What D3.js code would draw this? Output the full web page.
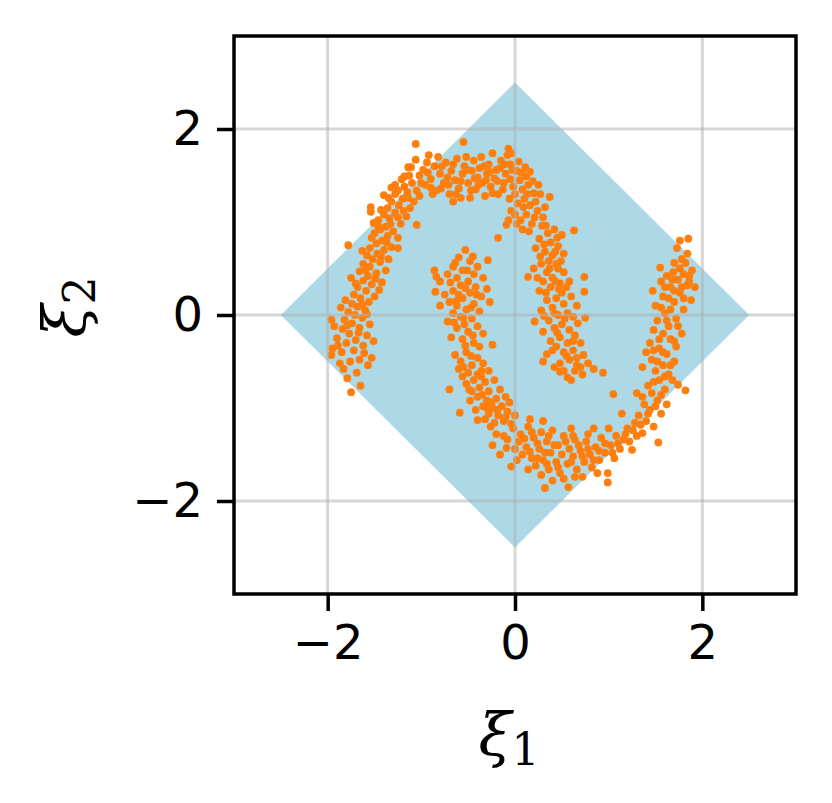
<!DOCTYPE html>
<html lang="en">
<head>
    <meta charset="UTF-8">
    <title>moons</title>
    <script src="https://d3js.org/d3.v7.min.js"></script>
    <style>
        * { margin: 0; padding: 0; box-sizing: border-box; }
        body { background: white; font-family: "DejaVu Sans", sans-serif; }
    </style>
</head>
<body>
    <div id="chart"></div>
    <script>
        // tick values of both axes
        const xTicks = [-2, 0, 2];
        const yTicks = [-2, 0, 2];

        // region |x| + |y| <= 2.5 (corners)
        const diamond = [[2.5, 0], [0, 2.5], [-2.5, 0], [0, -2.5]];

        // upper (left) moon
        const upperMoon = [
            [-1.75,-0.83],[-1.65,-0.76],[-1.79,-0.68],[-1.87,-0.52],[-1.76,-0.50],[-1.66,-0.48],[-1.53,-0.46],[-1.57,-0.54],
            [-1.96,-0.43],[-1.95,-0.36],[-1.85,-0.40],[-1.72,-0.38],[-1.62,-0.33],[-1.80,-0.30],[-1.90,-0.25],[-1.70,-0.27],
            [-1.58,-0.22],[-1.77,-0.20],[-1.84,-0.15],[-1.66,-0.14],[-1.55,-0.10],[-1.74,-0.09],[-1.96,-0.05],[-1.82,-0.05],
            [-1.63,-0.03],[-1.71,0.00],[-1.78,0.03],[-1.60,0.05],[-1.68,0.09],[-1.86,0.08],[-1.74,0.12],
            [-1.56,0.14],[-1.65,0.18],[-1.50,0.20],[-1.72,0.22],[-1.59,0.26],[-1.45,0.27],[-1.68,0.30],[-1.53,0.33],
            [-1.62,0.37],[-1.42,0.35],[-1.75,0.40],[-1.57,0.42],[-1.48,0.45],[-1.66,0.47],[-1.38,0.48],[-1.55,0.52],
            [-1.62,0.55],[-1.44,0.57],[-1.52,0.60],[-1.35,0.60],[-1.58,0.64],[-1.47,0.66],[-1.40,0.70],[-1.55,0.72],
            [-1.32,0.73],[-1.48,0.77],[-1.78,0.75],[-1.25,0.83],[-1.25,0.72],[-1.42,0.80],[-1.36,0.85],[-1.50,0.88],
            [-1.51,0.99],[-1.54,1.11],[-1.54,1.16],[-1.44,0.92],[-1.38,0.95],[-1.30,0.90],[-1.46,1.02],[-1.34,1.04],
            [-1.22,0.98],[-1.40,1.08],[-1.28,1.10],[-1.16,1.06],[-1.05,0.97],[-1.36,1.15],[-1.24,1.18],[-1.12,1.15],
            [-1.40,1.29],[-1.32,1.22],[-1.20,1.25],[-1.08,1.22],[-1.28,1.30],[-1.15,1.32],[-1.02,1.28],[-1.32,1.37],
            [-1.28,1.40],[-1.18,1.38],[-1.10,1.42],[-1.21,1.46],
            [-1.18,1.49],[-1.14,1.59],[-1.11,1.59],[-1.06,1.67],[-1.06,1.84],[-0.92,1.72],[-0.55,1.86],[-1.02,1.50],
            [-0.96,1.40],[-0.98,1.56],[-0.90,1.46],[-0.86,1.60],[-0.84,1.34],[-0.80,1.52],[-0.76,1.42],[-0.74,1.64],
            [-0.70,1.30],[-0.68,1.55],[-0.64,1.45],[-0.62,1.68],[-0.60,1.36],[-0.56,1.52],[-0.54,1.60],[-0.50,1.42],
            [-0.48,1.26],[-0.46,1.55],[-0.44,1.66],[-0.42,1.35],[-0.40,1.48],[-0.38,1.58],[-0.35,1.42],[-0.32,1.28],
            [-0.30,1.52],[-0.28,1.62],[-0.26,1.38],[-0.22,1.47],[-0.20,1.56],[-0.18,1.30],[-0.15,1.66],[-0.12,1.42],
            [-0.10,1.52],[-0.08,1.72],[-0.66,1.22],[-0.88,1.30],[-0.58,1.26],[-0.72,1.48],[-0.94,1.64],[-0.82,1.70],
            [-0.52,1.70],[-0.36,1.70],[-0.24,1.74],
            [-0.07,1.79],[-0.04,1.74],[0.11,1.59],[0.16,1.54],[0.12,1.49],[0.25,1.40],[0.37,1.27],[0.16,1.18],
            [0.20,1.31],[-0.05,1.62],[0.02,1.55],[0.05,1.45],[-0.02,1.38],[0.08,1.35],[-0.06,1.25],[0.03,1.20],
            [0.10,1.25],[-0.09,0.97],[-0.07,1.02],[0.00,1.08],[0.06,1.02],[-0.04,1.12],[0.12,1.08],[0.18,0.98],
            [0.24,1.12],[0.08,0.92],[0.30,1.05],[-0.18,0.83],[0.14,1.40],[0.04,1.65],
            [0.29,0.96],[0.35,0.88],[0.42,0.92],[0.50,0.86],[0.63,0.91],[0.26,0.82],[0.38,0.78],[0.46,0.74],
            [0.22,0.72],[0.32,0.68],[0.40,0.64],[0.52,0.66],[0.36,0.58],[0.44,0.55],[0.28,0.55],[0.46,0.50],
            [0.20,0.50],[0.14,0.41],[0.34,0.46],[0.52,0.46],[0.40,0.40],[0.74,0.41],[0.30,0.36],[0.48,0.34],
            [0.58,0.36],[0.38,0.30],[0.74,0.25],[0.26,0.26],[0.50,0.24],[0.44,0.18],[0.60,0.20],[0.34,0.16],
            [0.52,0.12],[0.66,0.10],[0.40,0.08],[0.28,0.05],[0.56,0.02],[0.46,0.00],[0.62,-0.02],
            [0.75,-0.03],[0.21,-0.07],[0.36,-0.06],[0.50,-0.10],[0.42,-0.14],[0.58,-0.16],[0.30,-0.18],[0.64,-0.22],
            [0.48,-0.24],[0.38,-0.28],[0.56,-0.30],[0.70,-0.30],[0.44,-0.34],[0.62,-0.38],[0.52,-0.40],[0.34,-0.42],
            [0.66,-0.46],[0.58,-0.48],[0.30,-0.50],[0.48,-0.52],[0.78,-0.52],[0.70,-0.56],[0.48,-0.61],[0.56,-0.67],
            [0.64,-0.60],[0.94,-0.62],[0.60,-0.70],[0.72,-0.64],
            [-1.83,-0.58],[-1.69,-0.62],[-1.61,-0.41],[-1.89,-0.33],[-1.67,-0.19],[-1.51,-0.28],[-1.93,-0.12],[-1.79,-0.11],
            [-1.58,0.01],[-1.81,0.16],[-1.63,0.11],[-1.70,0.34],[-1.49,0.39],[-1.60,0.48],[-1.43,0.63],[-1.63,0.69],
            [-1.37,0.78],[-1.53,0.83],[-1.46,0.95],[-1.33,0.98],[-1.43,1.13],[-1.25,1.05],[-1.19,1.12],[-1.35,1.26],
            [-1.25,1.34],[-1.14,1.26],[-1.05,1.34],[-1.13,1.50],[-1.00,1.42],[-0.93,1.53],[-0.90,1.37],[-0.78,1.60],
            [-0.79,1.36],[-0.71,1.40],[-0.66,1.62],[-0.63,1.30],[-0.58,1.44],[-0.51,1.56],[-0.47,1.34],[-0.43,1.47],
            [-0.39,1.40],[-0.33,1.60],[-0.31,1.45],[-0.27,1.54],[-0.24,1.31],[-0.19,1.44],[-0.16,1.58],[-0.13,1.35],
            [-0.11,1.62],[-0.05,1.46],[-0.03,1.56],[0.00,1.30],[0.07,1.53],[0.09,1.16],[0.13,1.30],[0.19,1.44],
            [0.22,1.22],[0.27,1.30],[0.21,1.05],[0.32,1.16],[0.02,0.98],[0.15,0.90],[0.33,0.96],[0.45,0.83],
            [0.27,0.63],[0.31,0.76],[0.43,0.68],[0.49,0.58],[0.37,0.50],[0.24,0.40],[0.43,0.36],[0.55,0.30],
            [0.33,0.24],[0.47,0.28],[0.42,0.02],[0.53,-0.04],[0.31,-0.01],[0.67,-0.09],[0.45,-0.19],[0.62,-0.28],
            [0.40,-0.38],[0.55,-0.44],[0.73,-0.43],[0.42,-0.56],[0.66,-0.54],[0.52,-0.60],[0.84,-0.58]
        ];

        // lower (right) moon
        const lowerMoon = [
            [-0.53,0.70],[-0.29,0.59],[-0.60,0.62],[-0.48,0.58],[-0.66,0.52],[-0.40,0.52],[-0.56,0.48],[-0.72,0.44],
            [-0.44,0.44],[-0.62,0.40],[-0.34,0.40],[-0.50,0.36],[-0.80,0.36],[-0.58,0.32],[-0.42,0.30],[-0.66,0.26],
            [-0.48,0.24],[-0.36,0.20],[-0.56,0.18],[-0.70,0.14],[-0.44,0.12],[-0.62,0.10],[-0.52,0.06],[-0.38,0.04],
            [-0.66,0.02],[-0.58,-0.02],[-0.46,-0.04],[-0.72,-0.07],[-0.54,-0.10],[-0.40,-0.12],[-0.62,-0.14],[-0.50,-0.18],
            [-0.34,-0.20],[-0.68,-0.24],[-0.56,-0.26],[-0.24,-0.32],[-0.44,-0.30],[-0.86,0.48],[-0.60,0.22],[-0.30,0.28],
            [-0.85,0.25],[-0.80,0.10],[-0.27,0.14],[-0.84,0.41],[-0.64,0.56],
            [-0.64,-0.43],[-0.52,-0.40],[-0.40,-0.46],[-0.58,-0.50],[-0.46,-0.54],[-0.60,-0.58],[-0.34,-0.52],[-0.50,-0.62],
            [-0.40,-0.64],[-0.28,-0.60],[-0.56,-0.66],[-0.44,-0.70],[-0.32,-0.72],[-0.52,-0.74],[-0.22,-0.70],[-0.38,-0.78],
            [-0.46,-0.82],[-0.28,-0.82],[-0.16,-0.80],[-0.40,-0.88],[-0.30,-0.92],[-0.20,-0.90],[-0.48,-0.92],[-0.10,-0.88],
            [-0.34,-0.98],[-0.24,-1.00],[-0.14,-0.98],[-0.42,-1.02],[-0.06,-0.94],[-0.28,-1.06],[-0.18,-1.08],[-0.59,-1.05],
            [-0.40,-1.13],[-0.08,-1.04],[-0.32,-1.12],[-0.12,-1.14],[-0.22,-1.16],[0.00,-1.08],[-0.70,-0.80],[-0.36,-0.60],
            [-0.24,-1.40],[-0.09,-1.43],[-0.04,-1.63],[0.32,-1.86],[0.57,-1.85],[0.99,-1.70],[0.99,-1.80],[-0.02,-1.22],
            [0.06,-1.28],[0.14,-1.20],[0.04,-1.36],[0.12,-1.42],[0.20,-1.32],[0.28,-1.26],[0.08,-1.50],[0.18,-1.54],
            [0.26,-1.44],[0.34,-1.36],[0.40,-1.24],[0.22,-1.62],[0.30,-1.56],[0.38,-1.48],[0.46,-1.40],[0.52,-1.30],
            [0.14,-1.66],[0.36,-1.66],[0.44,-1.58],[0.50,-1.50],[0.58,-1.44],[0.64,-1.34],[0.28,-1.72],[0.48,-1.70],
            [0.56,-1.60],[0.62,-1.52],[0.70,-1.46],[0.76,-1.36],[0.40,-1.78],[0.66,-1.66],[0.74,-1.58],[0.80,-1.50],
            [0.86,-1.42],[0.92,-1.32],[0.82,-1.64],[0.90,-1.56],[0.96,-1.48],[1.02,-1.40],[1.08,-1.30],[0.72,-1.74],
            [0.88,-1.70],[1.06,-1.54],[1.12,-1.44],[1.16,-1.34],[0.16,-1.12],[0.30,-1.14],[0.60,-1.22],[0.84,-1.22],
            [-0.12,-1.30],[-0.16,-1.50],[0.02,-1.56],[1.00,-1.22],
            [1.25,-1.45],[1.36,-1.27],[1.53,-1.37],[1.20,-1.22],[1.28,-1.16],[1.22,-1.36],[1.32,-1.08],[1.40,-1.14],
            [1.30,-1.30],[1.44,-1.02],[1.48,-1.20],[1.38,-0.96],[1.52,-0.92],[1.46,-0.84],[1.56,-1.06],[1.60,-0.80],
            [1.42,-0.76],[1.54,-0.70],[1.82,-0.81],[1.74,-0.75],[1.64,-0.64],[1.50,-0.60],[1.58,-0.54],[1.70,-0.50],
            [1.46,-0.48],[1.62,-0.42],[1.54,-0.36],[1.72,-0.34],[1.44,-0.30],[1.66,-0.26],[1.58,-0.20],[1.78,-0.20],
            [1.48,-0.16],[1.64,-0.12],[1.52,-0.06],[1.72,-0.04],[1.36,-0.56],[1.30,-0.84],[1.05,-0.85],[1.14,-1.06],
            [1.62,-0.96],[1.68,-0.70],[1.40,-0.40],
            [1.76,0.80],[1.85,0.82],[1.73,0.72],[1.84,0.66],[1.55,0.51],[1.69,0.46],[1.89,0.48],[1.60,0.02],
            [1.80,0.06],[1.50,0.10],[1.70,0.14],[1.88,0.16],[1.58,0.20],[1.76,0.24],[1.47,0.26],[1.66,0.30],
            [1.84,0.32],[1.56,0.36],[1.74,0.38],[1.92,0.30],[1.62,0.42],[1.80,0.44],[1.70,0.56],[1.78,0.60],
            [1.86,0.36],
            [-0.69,0.35],[-0.51,0.48],[-0.45,0.63],[-0.75,0.22],[-0.53,0.29],[-0.41,0.22],[-0.63,0.15],[-0.47,0.08],
            [-0.55,-0.03],[-0.65,-0.08],[-0.45,-0.22],[-0.38,-0.34],[-0.53,-0.33],[-0.47,-0.44],[-0.55,-0.56],[-0.36,-0.66],
            [-0.49,-0.80],[-0.35,-0.86],[-0.25,-0.94],[-0.30,-1.00],[-0.19,-1.02],[-0.10,-1.10],[-0.26,-1.20],[-0.04,-1.17],
            [-0.20,-1.28],[-0.08,-1.34],[0.00,-1.44],[0.10,-1.33],[0.16,-1.47],[0.24,-1.38],[0.32,-1.48],[0.24,-1.54],
            [0.42,-1.40],[0.46,-1.64],[0.54,-1.36],[0.60,-1.58],[0.68,-1.40],[0.72,-1.52],[0.78,-1.44],[0.84,-1.56],
            [0.90,-1.46],[0.96,-1.38],[1.04,-1.48],[1.10,-1.38],[0.18,-1.26],[0.36,-1.30],[0.62,-1.30],[0.78,-1.28],
            [0.34,-1.60],[0.52,-1.76],[0.64,-1.74],[1.18,-1.28],[1.26,-1.24],[1.34,-1.18],[1.42,-1.06],[1.36,-0.88],
            [1.50,-0.98],[1.56,-0.86],[1.48,-0.72],[1.60,-0.66],[1.52,-0.50],[1.66,-0.54],[1.58,-0.40],[1.48,-0.38],
            [1.70,-0.28],[1.54,-0.26],[1.62,-0.06],[1.74,-0.12],[1.56,0.08],[1.66,0.06],[1.64,0.18],[1.80,0.18],
            [1.70,0.26],[1.60,0.30],[1.78,0.30],[1.68,0.38],[1.86,0.42],[1.76,0.50],[1.82,0.56]
        ];

        const W = 832, H = 803;
        const margin = { top: 36, right: 36, bottom: 209, left: 234 };
        const width = W - margin.left - margin.right,
              height = H - margin.top - margin.bottom;

        const svg = d3.select("#chart")
                      .append("svg")
                      .attr("width", W)
                      .attr("height", H)
                      .append("g")
                      .attr("transform", `translate(${margin.left},${margin.top})`);

        const x = d3.scaleLinear().domain([-3, 3]).range([0, width]);
        const y = d3.scaleLinear().domain([-3, 3]).range([height, 0]);

        // light blue square region
        svg.append("path")
           .attr("d", d3.line().x(d => x(d[0])).y(d => y(d[1]))(diamond) + "Z")
           .attr("fill", "#add8e6");

        const points = upperMoon.concat(lowerMoon);
        svg.selectAll(".dot")
           .data(points)
           .join("circle")
           .attr("cx", d => x(d[0]))
           .attr("cy", d => y(d[1]))
           .attr("r", 3.9)
           .attr("fill", "#ff7f0e");

        // grid on top, half transparent
        svg.append("g")
           .selectAll("line.gx")
           .data(xTicks)
           .join("line")
           .attr("x1", d => x(d)).attr("x2", d => x(d))
           .attr("y1", 0).attr("y2", height)
           .attr("stroke", "#b0b0b0").attr("stroke-width", 3).attr("stroke-opacity", 0.5);
        svg.append("g")
           .selectAll("line.gy")
           .data(yTicks)
           .join("line")
           .attr("y1", d => y(d)).attr("y2", d => y(d))
           .attr("x1", 0).attr("x2", width)
           .attr("stroke", "#b0b0b0").attr("stroke-width", 3).attr("stroke-opacity", 0.5);

        const fmt = d => d < 0 ? "\u2212" + Math.abs(d) : String(d);

        svg.append("g")
           .attr("transform", `translate(0,${height})`)
           .call(d3.axisBottom(x).tickValues(xTicks).tickSize(17).tickPadding(14).tickFormat(fmt))
           .call(g => g.select(".domain").remove())
           .call(g => g.selectAll(".tick line").attr("stroke", "black").attr("stroke-width", 3.5))
           .call(g => g.selectAll(".tick text").attr("fill", "black")
                        .style("font-family", "'DejaVu Sans', sans-serif").style("font-size", "48px"));

        svg.append("g")
           .call(d3.axisLeft(y).tickValues(yTicks).tickSize(17).tickPadding(14).tickFormat(fmt))
           .call(g => g.select(".domain").remove())
           .call(g => g.selectAll(".tick line").attr("stroke", "black").attr("stroke-width", 3.5))
           .call(g => g.selectAll(".tick text").attr("fill", "black")
                        .style("font-family", "'DejaVu Sans', sans-serif").style("font-size", "48px"));

        // frame
        svg.append("rect")
           .attr("width", width).attr("height", height)
           .attr("fill", "none").attr("stroke", "black").attr("stroke-width", 3.5);

        // axis labels
        const xl = svg.append("text")
           .attr("x", width / 2 - 6).attr("y", height + 162)
           .attr("text-anchor", "middle")
           .style("font-family", "'DejaVu Serif', 'Liberation Serif', serif")
           .style("font-size", "60px");
        xl.append("tspan").style("font-style", "italic").text("\u03BE");
        xl.append("tspan").attr("dy", 9).style("font-size", "44px").text("1");

        const yl = svg.append("text")
           .attr("transform", `translate(${-148},${height / 2 - 8}) rotate(-90)`)
           .attr("text-anchor", "middle")
           .style("font-family", "'DejaVu Serif', 'Liberation Serif', serif")
           .style("font-size", "60px");
        yl.append("tspan").style("font-style", "italic").text("\u03BE");
        yl.append("tspan").attr("dy", 9).style("font-size", "44px").text("2");
    </script>
</body>
</html>
